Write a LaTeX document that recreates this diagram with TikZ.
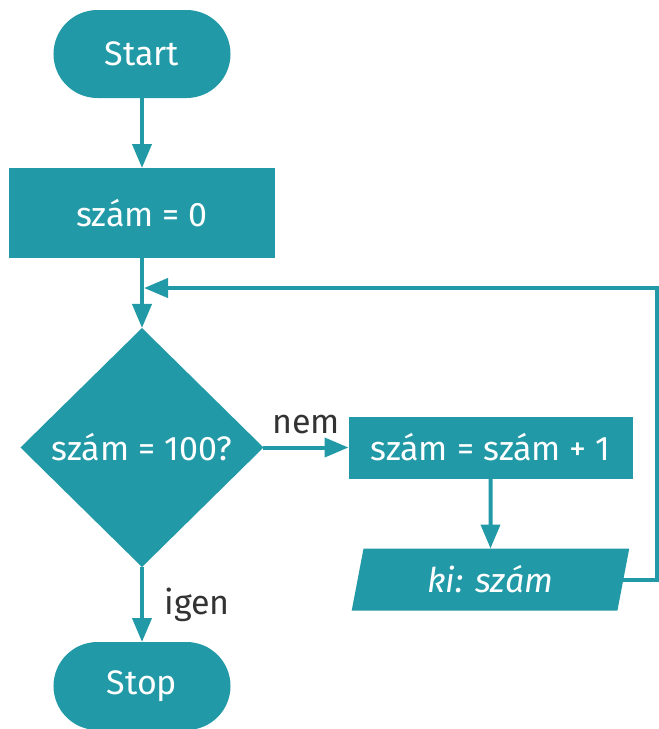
\documentclass[tikz,border=0pt]{standalone}
\usepackage{fontspec}
\setmainfont{Fira Sans}
\usetikzlibrary{arrows.meta,positioning,shapes.geometric}
\definecolor{flowteal}{HTML}{2199A6}
\definecolor{labelgray}{HTML}{333333}

\begin{document}
\begin{tikzpicture}[>={Triangle[length=12pt,width=9.5pt]},line width=2pt,auto,node distance=35pt,
	every node/.style={font=\fontsize{17}{20}\selectfont},
	terminal/.style={rectangle,rounded corners=22pt,fill=flowteal,text=white,minimum width=88.5pt,minimum height=44pt,outer sep=0pt},
	process/.style={rectangle,fill=flowteal,text=white,minimum width=133pt,minimum height=45pt,outer sep=0pt},
	decision/.style={diamond,fill=flowteal,text=white,minimum width=121.5pt,minimum height=119.5pt,inner sep=0pt,outer sep=0pt},
	io/.style={trapezium,trapezium left angle=81,trapezium right angle=99,trapezium stretches=true,fill=flowteal,text=white,minimum width=139pt,minimum height=31pt,outer sep=0pt},
	lbl/.style={text=labelgray}]

\useasboundingbox (-71pt,27pt) rectangle (258.5pt,-337.5pt);

\node[terminal]   (start)                          {Start};
\node[process]    (init)  [below=of start]         {szám = 0};
\node[decision]   (dec)   [below=of init]          {szám = 100?};
\node[terminal]   (stop)  [below=37.5pt of dec]    {Stop};
\node[process,minimum width=142pt,minimum height=31pt] (incr) [right=42.5pt of dec] {szám = szám + 1};
\node[io]         (out)   [below=of incr]          {\itshape ki: szám};
\coordinate[below=15pt of init.south] (merge);

	\path[->,color=flowteal] (start)  edge              (init)
						(init)   edge              (dec)
						(dec)    edge  node[lbl,yshift=2.5pt]{nem}   (incr)
									edge  node[lbl,xshift=7pt]{igen}  (stop)
						(incr)   edge              (out);
	\draw[->,color=flowteal,shorten >=1pt] (out.east) -- ++(17pt,0) |- (merge);
\end{tikzpicture}
\end{document}
